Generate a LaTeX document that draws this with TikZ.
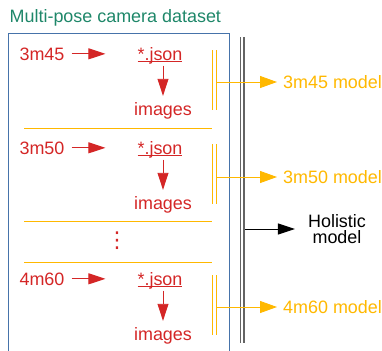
\documentclass[tikz,border=0pt]{standalone}
\usepackage{fontspec}
\setmainfont{Liberation Sans}
\newfontfamily\symfont{DejaVu Sans}
\usetikzlibrary{arrows.meta}
\definecolor{setgreen}{RGB}{30,135,105}
\definecolor{camred}{RGB}{212,38,38}
\definecolor{modelyellow}{RGB}{255,184,0}
\definecolor{boxblue}{RGB}{70,115,170}
\definecolor{railgray}{RGB}{100,100,100}
\begin{document}
\begin{tikzpicture}[x=1bp,y=-1bp,
  lbl/.style={inner sep=0pt,font=\fontsize{18}{18}\selectfont},
  camtext/.style={lbl,text=camred,anchor=base},
  modeltext/.style={lbl,text=modelyellow,anchor=base west},
  redarrow/.style={draw=camred,line width=0.9bp,-{Triangle[length=17bp,width=11bp]}},
  yellowarrow/.style={draw=modelyellow,line width=0.9bp,-{Triangle[length=17bp,width=12bp]}},
  yellowline/.style={draw=modelyellow,line width=0.9bp}]
\useasboundingbox (0,0) rectangle (382,351);
\node[lbl,text=setgreen,anchor=base west] (title) at (9.5,22) {Multi-pose camera dataset};
\draw[boxblue,line width=1bp] (8,360) -- (8,33) -- (229,33) -- (229,360);
\draw[railgray,line width=1.3bp] (240.5,37) -- (240.5,343);
\draw[railgray,line width=1.3bp] (244,37) -- (244,343);
% 3m45
\node[camtext] (src1) at (42,60) {3m45};
\node[camtext] (json1) at (160,60) {\underline{\smash{*.json}}};
\node[camtext] (img1) at (163,115) {images};
\draw[redarrow,shorten <=7bp,shorten >=32bp] (src1.east) -- (src1.east -| json1.west);
\draw[redarrow,shorten <=3.5bp,shorten >=6bp] (json1.south -| img1.north) -- (img1.north);
\draw[yellowline] (212,50) -- (212,110);
\draw[yellowline] (216,50) -- (216,110);
\coordinate (out1) at (216,82);
\node[modeltext] (model1) at (283,88) {3m45 model};
\draw[yellowarrow,shorten >=6bp] (out1) -- (out1 -| model1.west);
\draw[yellowline] (24,128) -- (212,128);
% 3m50
\node[camtext] (src2) at (42,154) {3m50};
\node[camtext] (json2) at (160,154) {\underline{\smash{*.json}}};
\node[camtext] (img2) at (163,209) {images};
\draw[redarrow,shorten <=7bp,shorten >=32bp] (src2.east) -- (src2.east -| json2.west);
\draw[redarrow,shorten <=3.5bp,shorten >=6bp] (json2.south -| img2.north) -- (img2.north);
\draw[yellowline] (212,144) -- (212,204);
\draw[yellowline] (216,144) -- (216,204);
\coordinate (out2) at (216,177);
\node[modeltext] (model2) at (283,183) {3m50 model};
\draw[yellowarrow,shorten >=6bp] (out2) -- (out2 -| model2.west);
\draw[yellowline] (24,221) -- (212,221);
% dots
\node[inner sep=0pt,text=camred,font=\symfont\fontsize{22}{22}\selectfont] (gap) at (117,240.5) {⋮};
\draw[yellowline] (24,262) -- (212,262);
% 4m60
\node[camtext] (src3) at (42,285) {4m60};
\node[camtext] (json3) at (160,285) {\underline{\smash{*.json}}};
\node[camtext] (img3) at (163,340) {images};
\draw[redarrow,shorten <=7bp,shorten >=32bp] (src3.east) -- (src3.east -| json3.west);
\draw[redarrow,shorten <=3.5bp,shorten >=6bp] (json3.south -| img3.north) -- (img3.north);
\draw[yellowline] (212,275) -- (212,335);
\draw[yellowline] (216,275) -- (216,335);
\coordinate (out3) at (216,307);
\node[modeltext] (model3) at (283,313) {4m60 model};
\draw[yellowarrow,shorten >=6bp] (out3) -- (out3 -| model3.west);
% holistic
\coordinate (hub) at (245,229);
\node[lbl,align=center,font=\fontsize{18}{16.5}\selectfont] (holistic) at (337,229) {Holistic\\model};
\draw[line width=0.9bp,-{Triangle[length=17bp,width=11bp]},shorten >=13bp] (hub) -- (hub -| holistic.west);
\end{tikzpicture}
\end{document}
